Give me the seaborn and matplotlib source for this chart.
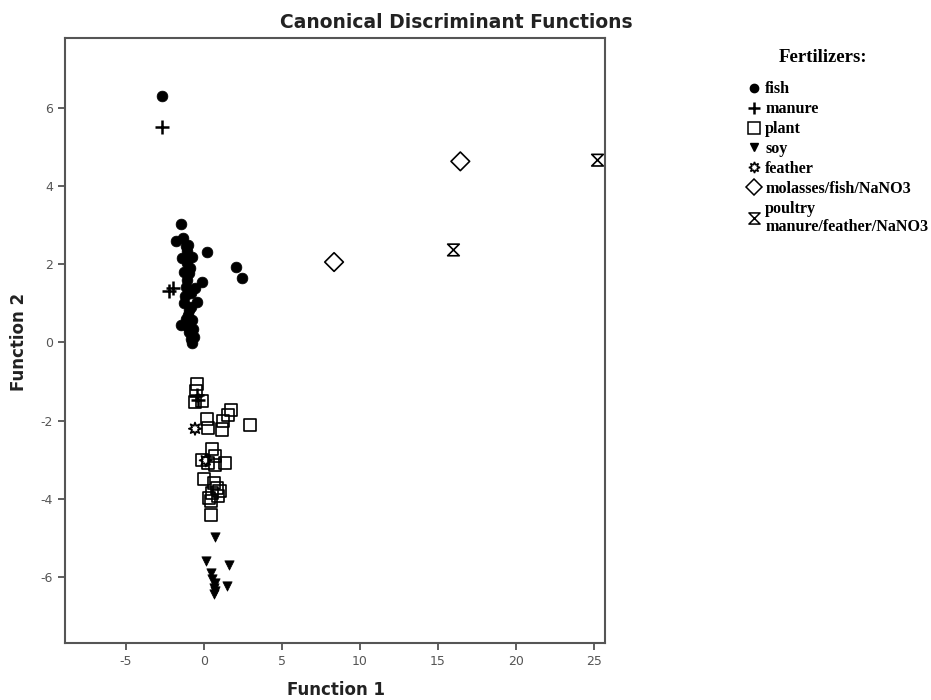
import numpy as np
import pandas as pd
import matplotlib
matplotlib.use("Agg")
import matplotlib.pyplot as plt
from matplotlib.path import Path
from matplotlib.lines import Line2D
import seaborn as sns

# ---- data ----
fish_x = [-2.67, 0.21, 2.04, 2.42, -1.48, -1.76, -1.32, -1.17, -1.38, -0.75, -1.06, -0.15,
          -0.96, -1.17, -0.85, -0.43, -1.27, -0.96, -1.48, -0.75, -0.96, -0.64, -0.75, -1.06,
          -0.99, -1.10, -0.90, -1.20, -0.80, -1.00, -0.70, -1.30, -0.60, -1.00, -0.85, -1.15]
fish_y = [6.31, 2.31, 1.94, 1.66, 3.03, 2.61, 2.67, 2.46, 2.16, 2.20, 2.03, 1.56,
          1.77, 1.43, 1.26, 1.03, 1.01, 0.84, 0.45, 0.58, 0.28, 0.15, -0.02, 1.60,
          0.70, 2.35, 1.90, 1.20, 0.90, 0.40, 0.35, 1.80, 1.40, 2.50, 0.10, 0.60]

manure_x = [-2.67, -2.23, -1.97, -0.43, -0.37]
manure_y = [5.52, 1.33, 1.39, -1.34, -1.47]

plant_x = [-0.43, -0.53, -0.15, -0.57, 1.76, 1.55, 0.21, 1.21, 2.97, 0.27, 1.17, 0.53,
           0.74, -0.11, 0.27, 1.34, 0.74, 0.00, 0.64, 0.85, 0.53, 0.91, 0.32, 0.43, 0.43, 1.00]
plant_y = [-1.06, -1.25, -1.51, -1.53, -1.74, -1.87, -1.96, -2.02, -2.12, -2.19, -2.23, -2.73,
           -2.90, -3.00, -3.08, -3.10, -3.13, -3.51, -3.60, -3.72, -3.85, -3.94, -3.98, -4.07, -4.43, -3.80]

soy_x = [0.74, 0.11, 1.59, 0.43, 0.53, 0.74, 1.48, 0.64, 0.70, 0.64]
soy_y = [-4.98, -5.60, -5.69, -5.90, -6.07, -6.17, -6.24, -6.28, -6.37, -6.45]

feather_x = [-0.57, 0.12]
feather_y = [-2.21, -3.02]

molasses_x = [8.34, 16.43]
molasses_y = [2.06, 4.64]

poultry_x = [15.99, 25.22]
poultry_y = [2.37, 4.67]

groups = ["fish", "manure", "plant", "soy", "feather",
          "molasses/fish/NaNO3", "poultry\nmanure/feather/NaNO3"]
xs = [fish_x, manure_x, plant_x, soy_x, feather_x, molasses_x, poultry_x]
ys = [fish_y, manure_y, plant_y, soy_y, feather_y, molasses_y, poultry_y]

df = pd.concat([pd.DataFrame({"Function 1": x, "Function 2": y, "Fertilizer": g})
                for g, x, y in zip(groups, xs, ys)], ignore_index=True)

# ---- styles ----
hourglass = Path([(-0.5, 0.5), (0.5, 0.5), (-0.5, -0.5), (0.5, -0.5), (-0.5, 0.5)],
                 [Path.MOVETO, Path.LINETO, Path.LINETO, Path.LINETO, Path.CLOSEPOLY])
styles = {
    "fish": dict(marker="o", s=60, filled=True),
    "manure": dict(marker="+", s=110, filled=None),
    "plant": dict(marker="s", s=75, filled=False),
    "soy": dict(marker="v", s=45, filled=True),
    "feather": dict(marker=(8, 1, 0), s=80, filled=False),
    "molasses/fish/NaNO3": dict(marker="D", s=90, filled=False),
    "poultry\nmanure/feather/NaNO3": dict(marker=hourglass, s=70, filled=False),
}

sns.set_theme(style="white")
plt.rcParams["font.family"] = ["DejaVu Sans"]
plt.rcParams["axes.unicode_minus"] = False

fig = plt.figure(figsize=(9.31, 7.0), dpi=100)
ax = fig.add_axes([65 / 931, 1 - 643 / 700, (605 - 65) / 931, (643 - 38) / 700])

for g in groups:
    st = styles[g]
    sub = df[df["Fertilizer"] == g]
    if st["filled"] is True:
        sns.scatterplot(data=sub, x="Function 1", y="Function 2", marker=st["marker"],
                        s=st["s"], color="black", edgecolor="black", linewidth=0.5, ax=ax,
                        legend=False)
    elif st["filled"] is None:
        sns.scatterplot(data=sub, x="Function 1", y="Function 2", marker=st["marker"],
                        s=st["s"], color="black", linewidth=1.8, ax=ax, legend=False)
    else:
        sns.scatterplot(data=sub, x="Function 1", y="Function 2", marker=st["marker"],
                        s=st["s"], facecolor="none", edgecolor="black", linewidth=1.2,
                        ax=ax, legend=False)

ax.set_xlim(-8.9, 25.7)
ax.set_ylim(-7.7, 7.8)
ax.set_xticks([-5, 0, 5, 10, 15, 20, 25])
ax.set_yticks([-6, -4, -2, 0, 2, 4, 6])
ax.tick_params(axis="both", direction="out", length=5, width=1.2, color="#444444",
               labelsize=9, labelcolor="#555555", bottom=True, left=True)
for sp in ax.spines.values():
    sp.set_color("#555555")
    sp.set_linewidth(1.5)

ax.set_xlabel("")
ax.set_ylabel("")
fig.text(336 / 931, 1 - 690 / 700, "Function 1", ha="center", va="center",
         fontsize=12, fontweight="bold", color="#222222")
fig.text(19 / 931, 1 - 342 / 700, "Function 2", ha="center", va="center", rotation=90,
         fontsize=12, fontweight="bold", color="#222222")
fig.text(456 / 931, 1 - 22 / 700, "Canonical Discriminant Functions", ha="center", va="center",
         fontsize=13.5, fontweight="bold", color="#222222")

# ---- legend ----
handles = []
for g in groups:
    st = styles[g]
    if st["filled"] is True:
        h = Line2D([], [], linestyle="none", marker=st["marker"], markersize=6 if g == "fish" else 5.5,
                   markerfacecolor="black", markeredgecolor="black")
    elif st["filled"] is None:
        h = Line2D([], [], linestyle="none", marker=st["marker"], markersize=9,
                   markeredgecolor="black", markeredgewidth=1.8)
    else:
        h = Line2D([], [], linestyle="none", marker=st["marker"], markersize=8,
                   markerfacecolor="none", markeredgecolor="black", markeredgewidth=1.1)
    handles.append(h)

leg = fig.legend(handles, groups, loc="upper left", bbox_to_anchor=(741 / 931, 1 - 75 / 700),
                 frameon=False, handlelength=0.8, handletextpad=0.3,
                 labelspacing=0.24, borderaxespad=0,
                 prop={"family": ["Liberation Serif"], "weight": "bold", "size": 11.6})
for t in leg.get_texts():
    t.set_color("black")
fig.text(823 / 931, 1 - 58 / 700, "Fertilizers:", ha="center", va="center",
         family=["Liberation Serif"], fontweight="bold", fontsize=13.5, color="black")

fig.savefig("out.png", dpi=100)
